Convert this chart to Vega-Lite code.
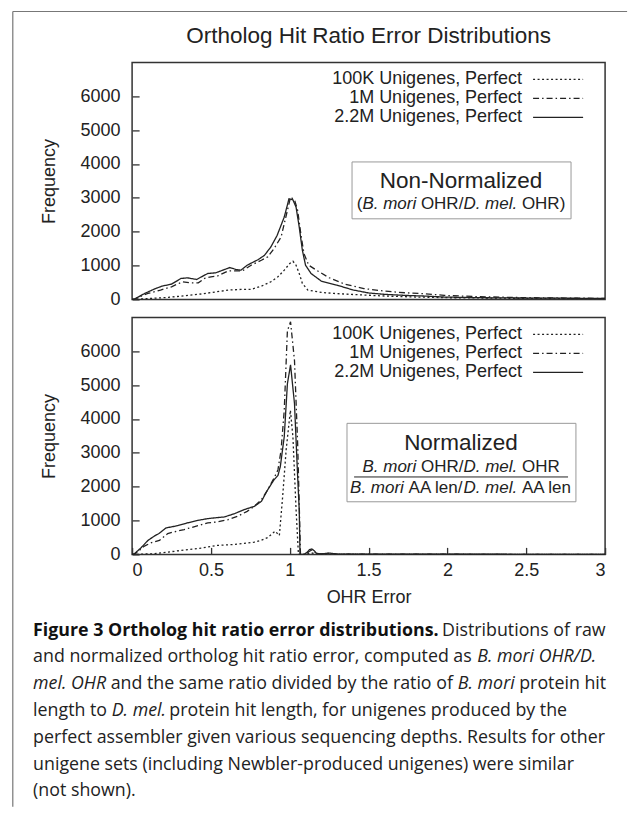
{
 "$schema": "https://vega.github.io/schema/vega-lite/v6.json",
 "background": "white",
 "padding": {"left": 11.1, "top": 9.4, "right": 4, "bottom": 0},
 "config": {
  "font": "Liberation Sans",
  "view": {"stroke": "#333", "strokeWidth": 1.5},
  "axis": {"labelFont": "Liberation Sans", "labelFontSize": 18, "labelColor": "#222", "titleFont": "Liberation Sans", "titleFontSize": 18, "titleFontWeight": "normal", "titleColor": "#222", "tickColor": "#333", "tickWidth": 1.3, "tickSize": -7, "domain": false, "grid": false, "labelOverlap": false},
  "text": {"font": "Liberation Sans", "color": "#222", "baseline": "middle", "fontSize": 17, "align": "left"},
  "line": {"color": "#222", "strokeWidth": 1.3}
 },
 "datasets": {
  "raw": [
   {"series":"2.2M","x":0,"y":0},{"series":"2.2M","x":0.015,"y":10},{"series":"2.2M","x":0.08,"y":176},{"series":"2.2M","x":0.14,"y":304},{"series":"2.2M","x":0.19,"y":392},{"series":"2.2M","x":0.25,"y":451},{"series":"2.2M","x":0.31,"y":618},{"series":"2.2M","x":0.35,"y":637},{"series":"2.2M","x":0.41,"y":588},{"series":"2.2M","x":0.44,"y":667},{"series":"2.2M","x":0.48,"y":765},{"series":"2.2M","x":0.53,"y":784},{"series":"2.2M","x":0.575,"y":863},{"series":"2.2M","x":0.62,"y":941},{"series":"2.2M","x":0.66,"y":882},{"series":"2.2M","x":0.69,"y":863},{"series":"2.2M","x":0.73,"y":1010},{"series":"2.2M","x":0.8,"y":1176},{"series":"2.2M","x":0.84,"y":1304},{"series":"2.2M","x":0.88,"y":1549},{"series":"2.2M","x":0.92,"y":1892},{"series":"2.2M","x":0.965,"y":2431},{"series":"2.2M","x":0.995,"y":2970},{"series":"2.2M","x":1.02,"y":2941},{"series":"2.2M","x":1.04,"y":2725},{"series":"2.2M","x":1.06,"y":2137},{"series":"2.2M","x":1.08,"y":1451},{"series":"2.2M","x":1.1,"y":1010},{"series":"2.2M","x":1.135,"y":765},{"series":"2.2M","x":1.2,"y":540},{"series":"2.2M","x":1.3,"y":420},{"series":"2.2M","x":1.4,"y":280},{"series":"2.2M","x":1.5,"y":190},{"series":"2.2M","x":1.6,"y":150},{"series":"2.2M","x":1.73,"y":118},{"series":"2.2M","x":1.86,"y":98},{"series":"2.2M","x":1.98,"y":69},{"series":"2.2M","x":2.24,"y":49},{"series":"2.2M","x":2.5,"y":39},{"series":"2.2M","x":2.75,"y":35},{"series":"2.2M","x":3,"y":29},
   {"series":"1M","x":0,"y":0},{"series":"1M","x":0.015,"y":10},{"series":"1M","x":0.1,"y":176},{"series":"1M","x":0.18,"y":275},{"series":"1M","x":0.25,"y":373},{"series":"1M","x":0.32,"y":520},{"series":"1M","x":0.37,"y":490},{"series":"1M","x":0.42,"y":490},{"series":"1M","x":0.46,"y":618},{"series":"1M","x":0.5,"y":667},{"series":"1M","x":0.54,"y":686},{"series":"1M","x":0.61,"y":843},{"series":"1M","x":0.66,"y":843},{"series":"1M","x":0.7,"y":843},{"series":"1M","x":0.755,"y":1010},{"series":"1M","x":0.82,"y":1157},{"series":"1M","x":0.86,"y":1255},{"series":"1M","x":0.9,"y":1500},{"series":"1M","x":0.945,"y":1843},{"series":"1M","x":0.985,"y":2627},{"series":"1M","x":1.005,"y":3020},{"series":"1M","x":1.03,"y":2941},{"series":"1M","x":1.05,"y":2627},{"series":"1M","x":1.07,"y":1941},{"series":"1M","x":1.09,"y":1353},{"series":"1M","x":1.12,"y":1010},{"series":"1M","x":1.17,"y":860},{"series":"1M","x":1.25,"y":640},{"series":"1M","x":1.35,"y":450},{"series":"1M","x":1.47,"y":320},{"series":"1M","x":1.6,"y":245},{"series":"1M","x":1.73,"y":196},{"series":"1M","x":1.86,"y":167},{"series":"1M","x":1.98,"y":118},{"series":"1M","x":2.2,"y":80},{"series":"1M","x":2.5,"y":50},{"series":"1M","x":2.75,"y":40},{"series":"1M","x":3,"y":30},
   {"series":"100K","x":0,"y":0},{"series":"100K","x":0.015,"y":0},{"series":"100K","x":0.23,"y":59},{"series":"100K","x":0.44,"y":160},{"series":"100K","x":0.61,"y":275},{"series":"100K","x":0.69,"y":294},{"series":"100K","x":0.755,"y":294},{"series":"100K","x":0.82,"y":392},{"series":"100K","x":0.88,"y":520},{"series":"100K","x":0.925,"y":667},{"series":"100K","x":0.965,"y":863},{"series":"100K","x":1,"y":1059},{"series":"100K","x":1.02,"y":1127},{"series":"100K","x":1.04,"y":1010},{"series":"100K","x":1.06,"y":765},{"series":"100K","x":1.08,"y":471},{"series":"100K","x":1.115,"y":275},{"series":"100K","x":1.2,"y":206},{"series":"100K","x":1.28,"y":176},{"series":"100K","x":1.39,"y":147},{"series":"100K","x":1.6,"y":100},{"series":"100K","x":1.8,"y":70},{"series":"100K","x":2,"y":50},{"series":"100K","x":2.5,"y":30},{"series":"100K","x":3,"y":20}
  ],
  "norm": [
   {"series":"2.2M","x":0,"y":0},{"series":"2.2M","x":0.015,"y":20},{"series":"2.2M","x":0.057,"y":196},{"series":"2.2M","x":0.1,"y":411},{"series":"2.2M","x":0.14,"y":538},{"series":"2.2M","x":0.17,"y":616},{"series":"2.2M","x":0.215,"y":783},{"series":"2.2M","x":0.25,"y":812},{"series":"2.2M","x":0.29,"y":851},{"series":"2.2M","x":0.35,"y":930},{"series":"2.2M","x":0.42,"y":1008},{"series":"2.2M","x":0.48,"y":1057},{"series":"2.2M","x":0.54,"y":1086},{"series":"2.2M","x":0.585,"y":1106},{"series":"2.2M","x":0.65,"y":1204},{"series":"2.2M","x":0.71,"y":1321},{"series":"2.2M","x":0.775,"y":1419},{"series":"2.2M","x":0.82,"y":1566},{"series":"2.2M","x":0.86,"y":1908},{"series":"2.2M","x":0.9,"y":2202},{"series":"2.2M","x":0.925,"y":2329},{"series":"2.2M","x":0.94,"y":2593},{"series":"2.2M","x":0.965,"y":3474},{"series":"2.2M","x":0.985,"y":5039},{"series":"2.2M","x":1.005,"y":5600},{"series":"2.2M","x":1.03,"y":4452},{"series":"2.2M","x":1.05,"y":2299},{"series":"2.2M","x":1.06,"y":1321},{"series":"2.2M","x":1.065,"y":0},{"series":"2.2M","x":1.09,"y":0},{"series":"2.2M","x":1.11,"y":60},{"series":"2.2M","x":1.125,"y":140},{"series":"2.2M","x":1.14,"y":160},{"series":"2.2M","x":1.155,"y":110},{"series":"2.2M","x":1.17,"y":30},{"series":"2.2M","x":1.2,"y":10},{"series":"2.2M","x":1.25,"y":40},{"series":"2.2M","x":1.3,"y":10},{"series":"2.2M","x":1.5,"y":8},{"series":"2.2M","x":2,"y":5},{"series":"2.2M","x":2.5,"y":3},{"series":"2.2M","x":3,"y":2},
   {"series":"1M","x":0,"y":0},{"series":"1M","x":0.015,"y":0},{"series":"1M","x":0.078,"y":245},{"series":"1M","x":0.12,"y":342},{"series":"1M","x":0.173,"y":411},{"series":"1M","x":0.226,"y":616},{"series":"1M","x":0.258,"y":655},{"series":"1M","x":0.33,"y":734},{"series":"1M","x":0.42,"y":851},{"series":"1M","x":0.48,"y":930},{"series":"1M","x":0.54,"y":959},{"series":"1M","x":0.61,"y":1027},{"series":"1M","x":0.67,"y":1125},{"series":"1M","x":0.73,"y":1272},{"series":"1M","x":0.775,"y":1419},{"series":"1M","x":0.82,"y":1614},{"series":"1M","x":0.86,"y":1908},{"series":"1M","x":0.9,"y":2250},{"series":"1M","x":0.925,"y":2495},{"series":"1M","x":0.945,"y":3082},{"series":"1M","x":0.965,"y":4256},{"series":"1M","x":0.985,"y":6605},{"series":"1M","x":1.005,"y":6870},{"series":"1M","x":1.03,"y":5724},{"series":"1M","x":1.05,"y":3278},{"series":"1M","x":1.06,"y":1500},{"series":"1M","x":1.068,"y":0},{"series":"1M","x":1.1,"y":0},{"series":"1M","x":1.12,"y":80},{"series":"1M","x":1.14,"y":130},{"series":"1M","x":1.16,"y":60},{"series":"1M","x":1.18,"y":10},{"series":"1M","x":1.25,"y":30},{"series":"1M","x":1.3,"y":8},{"series":"1M","x":1.5,"y":6},{"series":"1M","x":2,"y":4},{"series":"1M","x":2.5,"y":2},{"series":"1M","x":3,"y":2},
   {"series":"100K","x":0,"y":0},{"series":"100K","x":0.015,"y":0},{"series":"100K","x":0.14,"y":20},{"series":"100K","x":0.226,"y":68},{"series":"100K","x":0.33,"y":127},{"series":"100K","x":0.44,"y":186},{"series":"100K","x":0.54,"y":264},{"series":"100K","x":0.65,"y":294},{"series":"100K","x":0.71,"y":323},{"series":"100K","x":0.775,"y":362},{"series":"100K","x":0.82,"y":421},{"series":"100K","x":0.86,"y":499},{"series":"100K","x":0.89,"y":616},{"series":"100K","x":0.907,"y":685},{"series":"100K","x":0.934,"y":558},{"series":"100K","x":0.955,"y":1712},{"series":"100K","x":0.977,"y":3082},{"series":"100K","x":1.004,"y":4256},{"series":"100K","x":1.02,"y":3474},{"series":"100K","x":1.04,"y":1321},{"series":"100K","x":1.055,"y":0},{"series":"100K","x":1.1,"y":0},{"series":"100K","x":1.13,"y":50},{"series":"100K","x":1.16,"y":20},{"series":"100K","x":1.2,"y":5},{"series":"100K","x":1.5,"y":3},{"series":"100K","x":2,"y":2},{"series":"100K","x":3,"y":1}
  ]
 },
 "spacing": 18,
 "bounds": "flush",
 "resolve": {"scale": {"strokeDash": "independent"}, "legend": {"strokeDash": "independent"}},
 "vconcat": [
  {
   "title": {"text": "Ortholog Hit Ratio Error Distributions", "font": "Liberation Sans", "fontSize": 22.5, "fontWeight": "normal", "color": "#222", "anchor": "middle", "frame": "group", "offset": -36.3},
   "width": 473, "height": 237,
   "resolve": {"axis": {"x": "independent", "y": "independent"}},
   "layer": [
    {"data": {"values": [{}]}, "mark": {"type": "rule", "color": "#777", "strokeWidth": 1.2},
     "encoding": {"x": {"datum": -0.7567, "type": "quantitative", "axis": null}, "y": {"datum": 8504, "type": "quantitative", "axis": null}, "y2": {"datum": -14985}}},
    {"data": {"values": [{}]}, "mark": {"type": "rule", "color": "#777", "strokeWidth": 1.2},
     "encoding": {"x": {"datum": -0.7567, "type": "quantitative", "axis": null}, "x2": {"datum": 3.1395}, "y": {"datum": 8504, "type": "quantitative", "axis": null}}},
    {"data": {"name": "raw"}, "mark": {"type": "line", "clip": true},
     "encoding": {
      "x": {"field": "x", "type": "quantitative", "scale": {"domain": [0, 3]}, "axis": null},
      "y": {"field": "y", "type": "quantitative", "scale": {"domain": [0, 6950]}, "axis": {"orient": "left", "values": [0,1000,2000,3000,4000,5000,6000], "format": "d", "title": "Frequency", "labelPadding": 19, "titlePadding": 22}},
      "strokeDash": {"field": "series", "type": "nominal", "scale": {"domain": ["100K","1M","2.2M"], "range": [[2,2.5],[6,3,1.5,3],[1,0]]},
       "legend": {"title": null, "orient": "top-right", "offset": 7, "padding": 0, "rowPadding": -1.5, "symbolType": "M-2.78,0H2.78M4.1,0h0", "symbolSize": 324, "symbolStrokeWidth": 1.3, "symbolStrokeColor": "#222", "symbolFillColor": "transparent", "labelAlign": "right", "labelOffset": -46, "labelFont": "Liberation Sans", "labelFontSize": 18, "labelColor": "#222", "labelLimit": 400, "labelExpr": "datum.label + ' Unigenes, Perfect'"}}
     }},
    {"data": {"values": [{}]}, "mark": {"type": "rect", "fill": "white", "stroke": "#999", "strokeWidth": 1},
     "encoding": {"x": {"datum": 1.395, "type": "quantitative", "axis": null}, "x2": {"datum": 2.784}, "y": {"datum": 4060, "type": "quantitative", "axis": null}, "y2": {"datum": 2380}}},
    {"data": {"values": [{"t": "Non-Normalized"}]}, "mark": {"type": "text", "fontSize": 22.5, "align": "center"},
     "encoding": {"x": {"datum": 2.086, "type": "quantitative", "axis": null}, "y": {"datum": 3490, "type": "quantitative", "axis": null}, "text": {"field": "t"}}},
    {"data": {"values": [{"t": "("}]}, "mark": {"type": "text"},
     "encoding": {"x": {"datum": 1.4245, "type": "quantitative", "axis": null}, "y": {"datum": 2815, "type": "quantitative", "axis": null}, "text": {"field": "t"}}},
    {"data": {"values": [{"t": "B. mori"}]}, "mark": {"type": "text", "fontStyle": "italic"},
     "encoding": {"x": {"datum": 1.4607, "type": "quantitative", "axis": null}, "y": {"datum": 2815, "type": "quantitative", "axis": null}, "text": {"field": "t"}}},
    {"data": {"values": [{"t": "OHR/"}]}, "mark": {"type": "text"},
     "encoding": {"x": {"datum": 1.8317, "type": "quantitative", "axis": null}, "y": {"datum": 2815, "type": "quantitative", "axis": null}, "text": {"field": "t"}}},
    {"data": {"values": [{"t": "D. mel."}]}, "mark": {"type": "text", "fontStyle": "italic"},
     "encoding": {"x": {"datum": 2.1013, "type": "quantitative", "axis": null}, "y": {"datum": 2815, "type": "quantitative", "axis": null}, "text": {"field": "t"}}},
    {"data": {"values": [{"t": "OHR)"}]}, "mark": {"type": "text"},
     "encoding": {"x": {"datum": 2.4723, "type": "quantitative", "axis": null}, "y": {"datum": 2815, "type": "quantitative", "axis": null}, "text": {"field": "t"}}}
   ]
  },
  {
   "width": 473, "height": 237,
   "resolve": {"axis": {"x": "independent", "y": "independent"}},
   "layer": [
    {"data": {"name": "norm"}, "mark": {"type": "line", "clip": true},
     "encoding": {
      "x": {"field": "x", "type": "quantitative", "scale": {"domain": [0, 3]}, "axis": {"orient": "bottom", "values": [0,0.5,1,1.5,2,2.5,3], "format": "~g", "title": "OHR Error", "labelPadding": 14, "titlePadding": 9}},
      "y": {"field": "y", "type": "quantitative", "scale": {"domain": [0, 6950]}, "axis": {"orient": "left", "values": [0,1000,2000,3000,4000,5000,6000], "format": "d", "title": "Frequency", "labelPadding": 19, "titlePadding": 22}},
      "strokeDash": {"field": "series", "type": "nominal", "scale": {"domain": ["100K","1M","2.2M"], "range": [[2,2.5],[6,3,1.5,3],[1,0]]},
       "legend": {"title": null, "orient": "top-right", "offset": 7, "padding": 0, "rowPadding": -1.5, "symbolType": "M-2.78,0H2.78M4.1,0h0", "symbolSize": 324, "symbolStrokeWidth": 1.3, "symbolStrokeColor": "#222", "symbolFillColor": "transparent", "labelAlign": "right", "labelOffset": -46, "labelFont": "Liberation Sans", "labelFontSize": 18, "labelColor": "#222", "labelLimit": 400, "labelExpr": "datum.label + ' Unigenes, Perfect'"}}
     }},
    {"data": {"values": [{}]}, "mark": {"type": "rect", "fill": "white", "stroke": "#999", "strokeWidth": 1},
     "encoding": {"x": {"datum": 1.363, "type": "quantitative", "axis": null}, "x2": {"datum": 2.815}, "y": {"datum": 3871, "type": "quantitative", "axis": null}, "y2": {"datum": 1554}}},
    {"data": {"values": [{"t": "Normalized"}]}, "mark": {"type": "text", "fontSize": 22.5, "align": "center"},
     "encoding": {"x": {"datum": 2.086, "type": "quantitative", "axis": null}, "y": {"datum": 3284, "type": "quantitative", "axis": null}, "text": {"field": "t"}}},
    {"data": {"values": [{"t": "B. mori"}]}, "mark": {"type": "text", "fontStyle": "italic"},
     "encoding": {"x": {"datum": 1.4613, "type": "quantitative", "axis": null}, "y": {"datum": 2581, "type": "quantitative", "axis": null}, "text": {"field": "t"}}},
    {"data": {"values": [{"t": "OHR/"}]}, "mark": {"type": "text"},
     "encoding": {"x": {"datum": 1.8323, "type": "quantitative", "axis": null}, "y": {"datum": 2581, "type": "quantitative", "axis": null}, "text": {"field": "t"}}},
    {"data": {"values": [{"t": "D. mel."}]}, "mark": {"type": "text", "fontStyle": "italic"},
     "encoding": {"x": {"datum": 2.1019, "type": "quantitative", "axis": null}, "y": {"datum": 2581, "type": "quantitative", "axis": null}, "text": {"field": "t"}}},
    {"data": {"values": [{"t": "OHR"}]}, "mark": {"type": "text"},
     "encoding": {"x": {"datum": 2.4729, "type": "quantitative", "axis": null}, "y": {"datum": 2581, "type": "quantitative", "axis": null}, "text": {"field": "t"}}},
    {"data": {"values": [{}]}, "mark": {"type": "rule", "color": "#222", "strokeWidth": 1},
     "encoding": {"x": {"datum": 1.408, "type": "quantitative", "axis": null}, "x2": {"datum": 2.765}, "y": {"datum": 2287, "type": "quantitative", "axis": null}}},
    {"data": {"values": [{"t": "B. mori"}]}, "mark": {"type": "text", "fontStyle": "italic"},
     "encoding": {"x": {"datum": 1.3826, "type": "quantitative", "axis": null}, "y": {"datum": 1965, "type": "quantitative", "axis": null}, "text": {"field": "t"}}},
    {"data": {"values": [{"t": "AA len/"}]}, "mark": {"type": "text"},
     "encoding": {"x": {"datum": 1.7537, "type": "quantitative", "axis": null}, "y": {"datum": 1965, "type": "quantitative", "axis": null}, "text": {"field": "t"}}},
    {"data": {"values": [{"t": "D. mel."}]}, "mark": {"type": "text", "fontStyle": "italic"},
     "encoding": {"x": {"datum": 2.1013, "type": "quantitative", "axis": null}, "y": {"datum": 1965, "type": "quantitative", "axis": null}, "text": {"field": "t"}}},
    {"data": {"values": [{"t": "AA len"}]}, "mark": {"type": "text"},
     "encoding": {"x": {"datum": 2.4723, "type": "quantitative", "axis": null}, "y": {"datum": 1965, "type": "quantitative", "axis": null}, "text": {"field": "t"}}},
    {"data": {"values": [{"t": "Figure 3 Ortholog hit ratio error distributions."}]}, "mark": {"type": "text", "font": "Open Sans", "fontSize": 17.8, "fontWeight": "bold", "color": "#111"},
     "encoding": {"x": {"datum": -0.6279, "type": "quantitative", "axis": null}, "y": {"datum": -2249, "type": "quantitative", "axis": null}, "text": {"field": "t"}}},
    {"data": {"values": [{"t": "Distributions of raw"}]}, "mark": {"type": "text", "font": "Open Sans", "fontSize": 17.8},
     "encoding": {"x": {"datum": 1.966, "type": "quantitative", "axis": null}, "y": {"datum": -2249, "type": "quantitative", "axis": null}, "text": {"field": "t"}}},
    {"data": {"values": [{"t": "and normalized ortholog hit ratio error, computed as"}]}, "mark": {"type": "text", "font": "Open Sans", "fontSize": 17.8},
     "encoding": {"x": {"datum": -0.6279, "type": "quantitative", "axis": null}, "y": {"datum": -3041, "type": "quantitative", "axis": null}, "text": {"field": "t"}}},
    {"data": {"values": [{"t": "B. mori OHR/D."}]}, "mark": {"type": "text", "font": "Open Sans", "fontSize": 17.8, "fontStyle": "italic"},
     "encoding": {"x": {"datum": 2.1894, "type": "quantitative", "axis": null}, "y": {"datum": -3041, "type": "quantitative", "axis": null}, "text": {"field": "t"}}},
    {"data": {"values": [{"t": "mel. OHR"}]}, "mark": {"type": "text", "font": "Open Sans", "fontSize": 17.8, "fontStyle": "italic"},
     "encoding": {"x": {"datum": -0.6279, "type": "quantitative", "axis": null}, "y": {"datum": -3833, "type": "quantitative", "axis": null}, "text": {"field": "t"}}},
    {"data": {"values": [{"t": "and the same ratio divided by the ratio of"}]}, "mark": {"type": "text", "font": "Open Sans", "fontSize": 17.8},
     "encoding": {"x": {"datum": -0.1357, "type": "quantitative", "axis": null}, "y": {"datum": -3833, "type": "quantitative", "axis": null}, "text": {"field": "t"}}},
    {"data": {"values": [{"t": "B. mori"}]}, "mark": {"type": "text", "font": "Open Sans", "fontSize": 17.8, "fontStyle": "italic"},
     "encoding": {"x": {"datum": 2.0662, "type": "quantitative", "axis": null}, "y": {"datum": -3833, "type": "quantitative", "axis": null}, "text": {"field": "t"}}},
    {"data": {"values": [{"t": "protein hit"}]}, "mark": {"type": "text", "font": "Open Sans", "fontSize": 17.8},
     "encoding": {"x": {"datum": 2.4554, "type": "quantitative", "axis": null}, "y": {"datum": -3833, "type": "quantitative", "axis": null}, "text": {"field": "t"}}},
    {"data": {"values": [{"t": "length to"}]}, "mark": {"type": "text", "font": "Open Sans", "fontSize": 17.8},
     "encoding": {"x": {"datum": -0.6279, "type": "quantitative", "axis": null}, "y": {"datum": -4624, "type": "quantitative", "axis": null}, "text": {"field": "t"}}},
    {"data": {"values": [{"t": "D. mel."}]}, "mark": {"type": "text", "font": "Open Sans", "fontSize": 17.8, "fontStyle": "italic"},
     "encoding": {"x": {"datum": -0.1294, "type": "quantitative", "axis": null}, "y": {"datum": -4624, "type": "quantitative", "axis": null}, "text": {"field": "t"}}},
    {"data": {"values": [{"t": "protein hit length, for unigenes produced by the"}]}, "mark": {"type": "text", "font": "Open Sans", "fontSize": 17.8},
     "encoding": {"x": {"datum": 0.236, "type": "quantitative", "axis": null}, "y": {"datum": -4624, "type": "quantitative", "axis": null}, "text": {"field": "t"}}},
    {"data": {"values": [{"t": "perfect assembler given various sequencing depths. Results for other"}]}, "mark": {"type": "text", "font": "Open Sans", "fontSize": 17.8},
     "encoding": {"x": {"datum": -0.6279, "type": "quantitative", "axis": null}, "y": {"datum": -5416, "type": "quantitative", "axis": null}, "text": {"field": "t"}}},
    {"data": {"values": [{"t": "unigene sets (including Newbler-produced unigenes) were similar"}]}, "mark": {"type": "text", "font": "Open Sans", "fontSize": 17.8},
     "encoding": {"x": {"datum": -0.6279, "type": "quantitative", "axis": null}, "y": {"datum": -6208, "type": "quantitative", "axis": null}, "text": {"field": "t"}}},
    {"data": {"values": [{"t": "(not shown)."}]}, "mark": {"type": "text", "font": "Open Sans", "fontSize": 17.8},
     "encoding": {"x": {"datum": -0.6279, "type": "quantitative", "axis": null}, "y": {"datum": -7000, "type": "quantitative", "axis": null}, "text": {"field": "t"}}}
   ]
  }
 ]
}
